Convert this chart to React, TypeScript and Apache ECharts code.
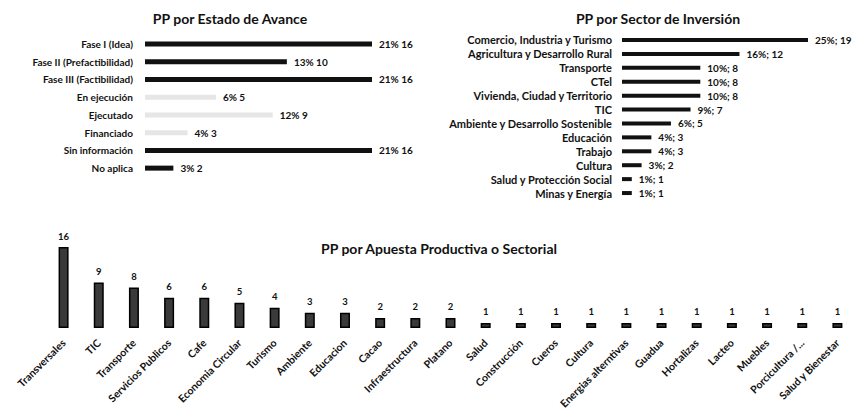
import React, { useEffect, useRef } from "react";
import * as echarts from "echarts";

const estadoCategorias = ["Fase I (Idea)", "Fase II (Prefactibilidad)", "Fase III (Factibilidad)", "En ejecución", "Ejecutado", "Financiado", "Sin información", "No aplica"];
const estadoValores = [16, 10, 16, 5, 9, 3, 16, 2];
const estadoPct = [21, 13, 21, 6, 12, 4, 21, 3];
const estadoTenue = [false, false, false, true, true, true, false, false];

const sectorCategorias = ["Comercio, Industria y Turismo", "Agricultura y Desarrollo Rural", "Transporte", "CTel", "Vivienda, Ciudad y Territorio", "TIC", "Ambiente y Desarrollo Sostenible", "Educación", "Trabajo", "Cultura", "Salud y Protección Social", "Minas y Energía"];
const sectorValores = [19, 12, 8, 8, 8, 7, 5, 3, 3, 2, 1, 1];
const sectorPct = [25, 16, 10, 10, 10, 9, 6, 4, 4, 3, 1, 1];

const apuestaCategorias = ["Transversales", "TIC", "Transporte", "Servicios Publicos", "Cafe", "Economia Circular", "Turismo", "Ambiente", "Educacion", "Cacao", "Infraestructura", "Platano", "Salud", "Construcción", "Cueros", "Cultura", "Energias alterntivas", "Guadua", "Hortalizas", "Lacteo", "Muebles", "Porcicultura /...", "Salud y Bienestar"];
const apuestaValores = [16, 9, 8, 6, 6, 5, 4, 3, 3, 2, 2, 2, 1, 1, 1, 1, 1, 1, 1, 1, 1, 1, 1];

const FONT = "Lato, 'Open Sans', sans-serif";
const INK = "#111";

export default function App() {
  const ref = useRef<HTMLDivElement>(null);
  useEffect(() => {
    if (!ref.current) return;
    const chart = echarts.init(ref.current, null, { renderer: "svg" });
    const catAxisCommon = {
      axisLine: { show: false },
      axisTick: { show: false },
      splitLine: { show: false },
    };
    const titleStyle = { fontFamily: FONT, fontSize: 14, fontWeight: "bold", color: INK };
    chart.setOption({
      animation: false,
      backgroundColor: "#fff",
      textStyle: { fontFamily: FONT },
      title: [
        { text: "PP por Estado de Avance", left: 225, top: 6, textAlign: "center", textStyle: titleStyle },
        { text: "PP por Sector de Inversión", left: 653, top: 6, textAlign: "center", textStyle: titleStyle },
        { text: "PP por Apuesta Productiva o Sectorial", left: 434, top: 236, textAlign: "center", textStyle: titleStyle },
      ],
      grid: [
        { left: 145, top: 35, width: 227, height: 142 },
        { left: 622, top: 33, width: 186, height: 167 },
        { left: 46, top: 247, width: 812, height: 81 },
      ],
      xAxis: [
        { gridIndex: 0, type: "value", min: 0, max: 16, show: false },
        { gridIndex: 1, type: "value", min: 0, max: 19, show: false },
        {
          gridIndex: 2, type: "category", data: apuestaCategorias, ...catAxisCommon,
          axisLabel: { rotate: 45, interval: 0, margin: 13, fontFamily: FONT, fontSize: 10.5, fontWeight: "bold", color: INK },
        },
      ],
      yAxis: [
        {
          gridIndex: 0, type: "category", inverse: true, data: estadoCategorias, ...catAxisCommon,
          axisLabel: { interval: 0, margin: 12, fontFamily: FONT, fontSize: 10, fontWeight: "bold", color: INK },
        },
        {
          gridIndex: 1, type: "category", inverse: true, data: sectorCategorias, ...catAxisCommon,
          axisLabel: { interval: 0, margin: 10, fontFamily: FONT, fontSize: 11, fontWeight: "bold", color: INK },
        },
        { gridIndex: 2, type: "value", min: 0, max: 16, show: false },
      ],
      series: [
        {
          type: "bar", xAxisIndex: 0, yAxisIndex: 0, barWidth: 5,
          data: estadoValores.map((v, i) => ({
            value: v,
            itemStyle: { color: estadoTenue[i] ? "#e6e6e6" : INK },
          })),
          label: {
            show: true, position: "right", distance: 7,
            formatter: (p: any) => `${estadoPct[p.dataIndex]}% ${p.value}`,
            fontFamily: FONT, fontSize: 10, fontWeight: "bold", color: INK,
          },
        },
        {
          type: "bar", xAxisIndex: 1, yAxisIndex: 1, barWidth: 4,
          data: sectorValores,
          itemStyle: { color: INK },
          label: {
            show: true, position: "right", distance: 7,
            formatter: (p: any) => `${sectorPct[p.dataIndex]}%; ${p.value}`,
            fontFamily: FONT, fontSize: 10, fontWeight: "bold", color: INK,
          },
        },
        {
          type: "bar", xAxisIndex: 2, yAxisIndex: 2, barWidth: 10,
          data: apuestaValores,
          itemStyle: { color: "#3a3a3a", borderColor: "#000", borderWidth: 1.5 },
          label: {
            show: true, position: "top", distance: 6,
            fontFamily: FONT, fontSize: 9.5, fontWeight: "bold", color: INK,
          },
        },
      ],
    });
    return () => chart.dispose();
  }, []);
  return <div ref={ref} style={{ width: 855, height: 418, position: "fixed", left: 0, top: 0 }} />;
}
